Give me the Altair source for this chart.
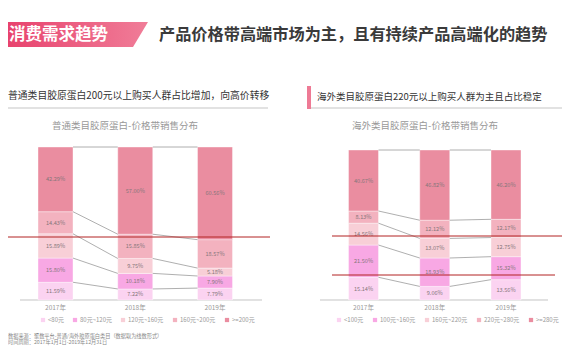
import altair as alt
import pandas as pd

FONT = "Noto Sans CJK SC"

years = ["2017年", "2018年", "2019年"]

left_bands = ["<80元", "80元~120元", "120元~160元", "160元~200元", ">=200元"]
left_lt80 = [11.59, 7.22, 7.79]
left_80_120 = [15.80, 10.18, 7.90]
left_120_160 = [15.89, 9.75, 5.18]
left_160_200 = [14.43, 15.85, 18.57]
left_ge200 = [42.29, 57.00, 60.56]

right_bands = ["<100元", "100元~160元", "160元~220元", "220元~280元", ">=280元"]
right_lt100 = [15.14, 9.06, 13.56]
right_100_160 = [21.50, 18.93, 15.32]
right_160_220 = [14.56, 13.07, 12.75]
right_220_280 = [8.13, 12.12, 12.17]
right_ge280 = [40.67, 46.82, 46.20]

colors = ["#FBD3F1", "#F8A8E4", "#F8CFD7", "#F3B2BF", "#EA8DA0"]

header_tag = "消费需求趋势"
header_title = "产品价格带高端市场为主，且有持续产品高端化的趋势"
left_sub = "普通类目胶原蛋白200元以上购买人群占比增加，向高价转移"
right_sub = "海外类目胶原蛋白220元以上购买人群为主且占比稳定"
left_title = "普通类目胶原蛋白-价格带销售分布"
right_title = "海外类目胶原蛋白-价格带销售分布"
footer1 = "数据来源：聚数平台-普通/海外胶原蛋白类目（数据取为线数形式）"
footer2 = "时间周期：2017年1月1日-2019年12月31日"


def build(bands, series):
    rows, conns, tops = [], [], []
    for i, yr in enumerate(years):
        c = 0.0
        t = []
        for b, s in zip(bands, series):
            v = s[i]
            rows.append(dict(year=yr, idx=i, band=b, y0=c, y1=c + v,
                             mid=c + v / 2, label=f"{v:.2f}%"))
            c += v
            t.append(c)
        tops.append(t)
    for i in range(len(years) - 1):
        for k in range(len(bands)):
            conns.append(dict(i0=i, i1=i + 1, ya=tops[i][k], yb=tops[i + 1][k]))
    return pd.DataFrame(rows), pd.DataFrame(conns)


def panel(bands, series, xr, yr, bw, legend_x, base_x):
    seg, con = build(bands, series)
    yrs = pd.DataFrame({"year": years, "idx": list(range(len(years)))})
    xs = alt.Scale(domain=[0, len(years) - 1], range=xr, nice=False, zero=False)
    ys = alt.Scale(domain=[0, 100], range=yr, nice=False, zero=False)
    bars = alt.Chart(seg).mark_bar(width=bw, stroke="white", strokeWidth=0.4).encode(
        x=alt.X("idx:Q", scale=xs, axis=None),
        y=alt.Y("y0:Q", scale=ys, axis=None),
        y2="y1:Q",
        color=alt.Color(
            "band:N",
            scale=alt.Scale(domain=bands, range=colors),
            legend=alt.Legend(
                title=None, orient="none", legendX=legend_x, legendY=309,
                direction="horizontal", columns=5, symbolType="square",
                symbolSize=18, symbolStrokeWidth=0, labelFontSize=6,
                labelColor="#999999", labelFont=FONT, columnPadding=8,
                labelOffset=2,
            ),
        ),
    )
    conn = alt.Chart(con).mark_rule(
        color="#9b9b9b", strokeWidth=0.8, xOffset=bw / 2, x2Offset=-bw / 2
    ).encode(
        x=alt.X("i0:Q", scale=xs, axis=None),
        x2="i1:Q",
        y=alt.Y("ya:Q", scale=ys, axis=None),
        y2="yb:Q",
    )
    labels = alt.Chart(seg).mark_text(
        font=FONT, fontSize=5.6, color="#86767a"
    ).encode(
        x=alt.X("idx:Q", scale=xs, axis=None),
        y=alt.Y("mid:Q", scale=ys, axis=None),
        text="label:N",
    )
    ylab = alt.Chart(yrs).mark_text(
        font=FONT, fontSize=6.5, color="#999999"
    ).encode(
        x=alt.X("idx:Q", scale=xs, axis=None),
        y=alt.value(300),
        text="year:N",
    )
    base = alt.Chart(yrs).mark_rule(color="#dddddd", strokeWidth=1).encode(
        x=alt.value(base_x[0]), x2=alt.value(base_x[1]), y=alt.value(yr[0])
    )
    return alt.layer(base, bars, conn, labels, ylab)


left = panel(left_bands, [left_lt80, left_80_120, left_120_160, left_160_200, left_ge200],
             [42.5, 212], [292, 139], 35, 32, [12, 254])
right = panel(right_bands, [right_lt100, right_100_160, right_160_220, right_220_280, right_ge280],
              [350.5, 503], [292, 142], 30, 328, [312, 540])

one = pd.DataFrame({"k": [0]})


def txt(t, x, y, size, color, weight="normal", align="left"):
    return alt.Chart(one).mark_text(
        text=t, font=FONT, fontSize=size, color=color, fontWeight=weight,
        align=align, baseline="middle"
    ).encode(x=alt.value(x), y=alt.value(y))


def hline(x1, x2, y, color, w):
    return alt.Chart(one).mark_rule(color=color, strokeWidth=w).encode(
        x=alt.value(x1), x2=alt.value(x2), y=alt.value(y)
    )


banner = alt.Chart(one).mark_point(
    shape="M-1,-0.1786L1,-0.1786L0.786,0.1786L-1,0.1786Z",
    size=19600, filled=True, opacity=1, strokeWidth=0,
    fill=alt.LinearGradient(
        gradient="linear", x1=0, x2=1, y1=0, y2=0,
        stops=[alt.GradientStop(color="#E8436E", offset=0),
               alt.GradientStop(color="#F07D98", offset=1)],
    ),
).encode(x=alt.value(70), y=alt.value(26.5))

pinkbar = alt.Chart(one).mark_rect(color="#EE7A95").encode(
    x=alt.value(299), x2=alt.value(303), y=alt.value(78), y2=alt.value(101)
)

ann = [
    banner,
    txt(header_tag, 1, 27, 16.5, "white", "bold"),
    txt(header_title, 151, 27, 16.2, "#3a3a3a", "bold"),
    txt(left_sub, 0, 88, 9.8, "#333333"),
    hline(0, 260, 100, "#d9d9d9", 1.5),
    pinkbar,
    txt(right_sub, 309, 89, 9.5, "#333333"),
    hline(303, 554, 100, "#d9d9d9", 1.5),
    txt(left_title, 117, 118, 9.5, "#999999", align="center"),
    txt(right_title, 417, 118, 9.5, "#999999", align="center"),
    hline(0, 262, 229, "#B22222", 1),
    hline(324, 554, 228, "#B22222", 1),
    hline(324, 547, 267, "#B22222", 1),
    txt(footer1, 0, 328, 5.2, "#888888"),
    txt(footer2, 0, 334, 5.2, "#888888"),
]

chart = alt.layer(left, right, *ann).resolve_scale(
    x="independent", y="independent", color="independent"
).properties(
    width=554, height=344, padding=0,
    autosize=alt.AutoSizeParams(type="none"), background="white"
).configure_view(stroke=None)

chart.save("out.html", embed_options={"renderer": "svg", "actions": False})
